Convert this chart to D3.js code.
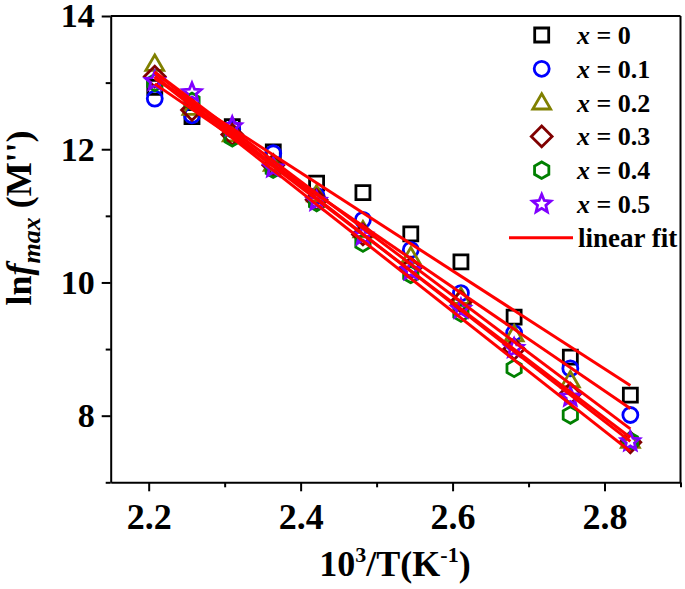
<!DOCTYPE html>
<html><head><meta charset="utf-8">
<script src="https://cdn.jsdelivr.net/npm/d3@7"></script>
<style>body{margin:0;background:#fff}</style>
</head><body>
<svg id="c" width="685" height="589"></svg>
<script>
// ---- data ----
const xInvT = [2.208, 2.257, 2.310, 2.364, 2.421, 2.482, 2.545, 2.611, 2.681, 2.755, 2.834];
const sX0  = [12.93, 12.49, 12.34, 11.96, 11.49, 11.35, 10.73, 10.31, 9.48, 8.88, 8.31];
const sX01 = [12.76, 12.51, 12.30, 11.94, 11.30, 10.94, 10.49, 9.84, 9.24, 8.71, 8.01];
const sX02 = [13.28, 12.62, 12.22, 11.78, 11.32, 10.78, 10.39, 9.78, 9.22, 8.53, 7.62];
const sX03 = [13.09, 12.59, 12.22, 11.76, 11.24, 10.72, 10.22, 9.71, 9.00, 8.33, 7.60];
const sX04 = [13.00, 12.72, 12.17, 11.70, 11.20, 10.59, 10.12, 9.54, 8.71, 8.01, 7.62];
const sX05 = [13.02, 12.85, 12.34, 11.72, 11.22, 10.70, 10.18, 9.60, 9.01, 8.28, 7.61];
const seriesLabels = ["0", "0.1", "0.2", "0.3", "0.4", "0.5"];
const xMajor = [2.2, 2.4, 2.6, 2.8];
const xMinor = [2.3, 2.5, 2.7, 2.9];
const yMajor = [8, 10, 12, 14];
const yMinor = [7, 9, 11, 13];

const seriesValues = [sX0, sX01, sX02, sX03, sX04, sX05];
const colors = ["#000000", "#0000ff", "#808000", "#800000", "#008000", "#8000ff"];
const fitColor = "#ff0000";

// ---- symbols ----
const symSquare = {draw(c, s){ const h = s; c.moveTo(-h,-h); c.lineTo(h,-h); c.lineTo(h,h); c.lineTo(-h,h); c.closePath(); }};
const symCircle = {draw(c, s){ c.moveTo(s,0); c.arc(0,0,s,0,2*Math.PI); }};
const symTriangle = {draw(c, s){ c.moveTo(0,-s*1.05); c.lineTo(s*1.05,s*0.75); c.lineTo(-s*1.05,s*0.75); c.closePath(); }};
const symDiamond = {draw(c, s){ const h = s*1.3; c.moveTo(0,-h); c.lineTo(h,0); c.lineTo(0,h); c.lineTo(-h,0); c.closePath(); }};
const symHex = {draw(c, s){ const r = s*1.1; for(let i=0;i<6;i++){ const a = Math.PI/2 + i*Math.PI/3; const px = r*Math.cos(a), py = r*Math.sin(a); if(i===0) c.moveTo(px,py); else c.lineTo(px,py);} c.closePath(); }};
const symStar = {draw(c, s){ const R = s*1.2, r = R*0.45; for(let i=0;i<10;i++){ const a = -Math.PI/2 + i*Math.PI/5; const rr = i%2===0?R:r; const px = rr*Math.cos(a), py = rr*Math.sin(a); if(i===0) c.moveTo(px,py); else c.lineTo(px,py);} c.closePath(); }};
const symbols = [symSquare, symCircle, symTriangle, symDiamond, symHex, symStar];
const symSize = [7, 7.5, 8.5, 8, 7.5, 8];

// ---- layout ----
const svg = d3.select("#c");
const L = 110.7, R = 680.5, T = 16, B = 482.3;
const x = d3.scaleLinear().domain([2.15, 2.9]).range([L, R]);
const y = d3.scaleLinear().domain([7, 14]).range([B, T]);
const font = "'Liberation Serif', 'Times New Roman', serif";

// axes
function styleAxis(size){ return g => { g.selectAll("path,line").attr("stroke","#000").attr("stroke-width",2); g.selectAll("text").attr("font-family",font).attr("font-weight","bold").attr("font-size",size).attr("fill","#000"); }; }
svg.append("g").attr("transform",`translate(0,${B})`)
  .call(d3.axisBottom(x).tickValues(xMajor).tickSize(9).tickSizeOuter(0).tickPadding(12).tickFormat(d3.format(".1f")))
  .call(styleAxis(36));
svg.append("g").attr("transform",`translate(0,${B})`)
  .call(d3.axisBottom(x).tickValues(xMinor).tickSize(5).tickSizeOuter(0).tickFormat(""))
  .call(g=>g.select(".domain").remove()).call(styleAxis(36));
svg.append("g").attr("transform",`translate(${L},0)`)
  .call(d3.axisLeft(y).tickValues(yMajor).tickSize(9).tickSizeOuter(0).tickPadding(7).tickFormat(d3.format("d")))
  .call(styleAxis(34));
svg.append("g").attr("transform",`translate(${L},0)`)
  .call(d3.axisLeft(y).tickValues(yMinor).tickSize(5).tickSizeOuter(0).tickFormat(""))
  .call(g=>g.select(".domain").remove()).call(styleAxis(34));
// frame top/right
svg.append("line").attr("x1",L).attr("x2",R).attr("y1",T).attr("y2",T).attr("stroke","#000").attr("stroke-width",2);
svg.append("line").attr("x1",R).attr("x2",R).attr("y1",T).attr("y2",B).attr("stroke","#000").attr("stroke-width",2);

// markers
const sym = (i) => d3.symbol().type(symbols[i]).size(symSize[i]);
seriesValues.forEach((vals, i) => {
  svg.append("g").selectAll("path").data(vals).join("path")
    .attr("d", sym(i))
    .attr("transform", (d, j) => `translate(${x(xInvT[j])},${y(d)})`)
    .attr("fill","none").attr("stroke",colors[i]).attr("stroke-width",2.8);
});

// linear fits (least squares of each series)
seriesValues.forEach((vals) => {
  const mx = d3.mean(xInvT), my = d3.mean(vals);
  const sxy = d3.sum(xInvT, (xv, j) => (xv-mx)*(vals[j]-my));
  const sxx = d3.sum(xInvT, xv => (xv-mx)*(xv-mx));
  const b = sxy/sxx, a = my - b*mx;
  const ends = [xInvT[0], xInvT[xInvT.length-1]];
  svg.append("path").datum(ends)
    .attr("d", d3.line().x(d=>x(d)).y(d=>y(a+b*d)))
    .attr("stroke",fitColor).attr("stroke-width",3).attr("fill","none");
});

// legend
const lx = 541.7, ltx = 577, ly0 = 35, ldy = 33.8;
seriesLabels.forEach((lab, i) => {
  const yy = ly0 + i*ldy;
  svg.append("path").attr("d", sym(i)()).attr("transform",`translate(${lx},${yy})`)
    .attr("fill","none").attr("stroke",colors[i]).attr("stroke-width",2.8);
  const t = svg.append("text").attr("x",ltx).attr("y",yy+9).attr("font-family",font).attr("font-weight","bold").attr("font-size",26);
  t.append("tspan").attr("font-style","italic").text("x");
  t.append("tspan").text(" = " + lab);
});
{
  const yy = ly0 + 6*ldy;
  svg.append("line").attr("x1",509).attr("x2",573).attr("y1",yy).attr("y2",yy).attr("stroke",fitColor).attr("stroke-width",3);
  svg.append("text").attr("x",578).attr("y",yy+9).attr("font-family",font).attr("font-weight","bold").attr("font-size",27).text("linear fit");
}

// axis titles
{
  const t = svg.append("text").attr("x",395).attr("y",576).attr("text-anchor","middle")
    .attr("font-family",font).attr("font-weight","bold").attr("font-size",36);
  t.append("tspan").text("10");
  t.append("tspan").attr("font-size",22).attr("dy",-14).text("3");
  t.append("tspan").attr("dy",14).text("/T(K");
  t.append("tspan").attr("font-size",22).attr("dy",-14).text("-1");
  t.append("tspan").attr("dy",14).text(")");
}
{
  const t = svg.append("text").attr("transform",`translate(31,218) rotate(-90)`).attr("text-anchor","middle")
    .attr("font-family",font).attr("font-weight","bold").attr("font-size",36);
  t.append("tspan").text("ln");
  t.append("tspan").attr("font-style","italic").text("f");
  t.append("tspan").attr("font-style","italic").attr("font-size",26).attr("dy",9).text("max");
  t.append("tspan").attr("dy",-9).text(" (M'')");
}
</script>
</body></html>
